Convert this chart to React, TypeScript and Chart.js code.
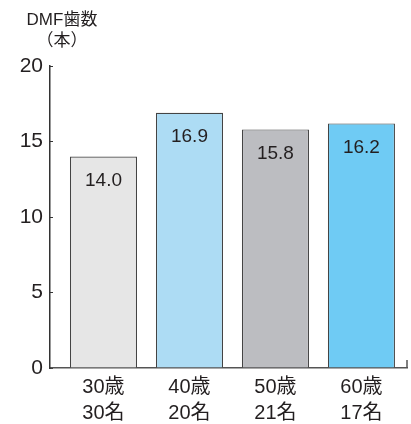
import { useEffect, useRef } from 'react';
import { Chart, registerables } from 'chart.js';

Chart.register(...registerables);

// Mean DMF teeth by age group
const ageGroups = ['30歳', '40歳', '50歳', '60歳'];
const headcounts = ['30名', '20名', '21名', '17名'];
const dmfTeeth = [14.0, 16.9, 15.8, 16.2];
const barColors = ['#e6e6e6', '#addcf4', '#bcbdc1', '#6fcbf4'];
const yTicks = [0, 5, 10, 15, 20];
const unitLines = ['DMF歯数', '（本）'];

const FONT = "'Liberation Sans', 'Noto Sans CJK JP', sans-serif";
const INK = '#231f20';

// Unit caption above the y axis, value labels inside the bars, and the
// small end mark on the right of the x axis.
const decorations = {
  id: 'decorations',
  afterDatasetsDraw(chart: any) {
    const { ctx, chartArea } = chart;
    ctx.save();

    ctx.fillStyle = INK;
    ctx.textAlign = 'center';
    ctx.textBaseline = 'middle';
    ctx.font = `17px ${FONT}`;
    unitLines.forEach((line, i) => ctx.fillText(line, 62, 20 + i * 21));

    ctx.font = `19px ${FONT}`;
    const meta = chart.getDatasetMeta(0);
    meta.data.forEach((bar: any, i: number) => {
      ctx.fillText(dmfTeeth[i].toFixed(1), bar.x, bar.y + 24);
    });

    ctx.strokeStyle = '#555';
    ctx.lineWidth = 1.5;
    ctx.beginPath();
    ctx.moveTo(chartArea.right, chartArea.bottom - 8);
    ctx.lineTo(chartArea.right, chartArea.bottom);
    ctx.stroke();
    ctx.restore();
  },
};

export default function App() {
  const canvasRef = useRef<HTMLCanvasElement | null>(null);

  useEffect(() => {
    document.body.style.margin = '0';
    const canvas = canvasRef.current;
    if (!canvas) return;

    const chart = new Chart(canvas, {
      type: 'bar',
      data: {
        datasets: [
          {
            data: dmfTeeth.map((v, i) => ({ x: i + 1, y: v })),
            backgroundColor: barColors,
            borderColor: '#444',
            borderWidth: 1.2,
            borderSkipped: 'bottom',
            barPercentage: 0.78,
            categoryPercentage: 1,
          },
        ],
      },
      options: {
        animation: false,
        responsive: false,
        maintainAspectRatio: false,
        layout: { padding: { top: 66, right: 4, left: 0, bottom: 0 } },
        plugins: {
          legend: { display: false },
          tooltip: { enabled: false },
          title: { display: false },
        },
        scales: {
          x: {
            type: 'linear',
            offset: false,
            min: 0.378,
            max: 4.53,
            afterBuildTicks: (scale: any) => {
              scale.ticks = ageGroups.map((_, i) => ({ value: i + 1 }));
            },
            afterFit: (scale: any) => {
              scale.height = 56;
            },
            grid: { display: false, drawTicks: false },
            border: { color: '#555', width: 1.5 },
            ticks: {
              color: INK,
              font: { family: FONT, size: 20, lineHeight: 1.3 },
              padding: 6,
              maxRotation: 0,
              autoSkip: false,
              callback: (value: any) => {
                const i = Math.round(Number(value)) - 1;
                return [ageGroups[i], headcounts[i]];
              },
            },
          },
          y: {
            min: 0,
            max: 20,
            afterBuildTicks: (scale: any) => {
              scale.ticks = yTicks.map((v) => ({ value: v }));
            },
            afterFit: (scale: any) => {
              scale.width = 50;
            },
            grid: {
              drawOnChartArea: false,
              tickLength: -3,
              color: '#333',
              lineWidth: 1,
            },
            border: { color: '#333', width: 1.5 },
            ticks: {
              color: INK,
              font: { family: FONT, size: 21 },
              padding: 10,
            },
          },
        },
      },
      plugins: [decorations],
    });

    return () => chart.destroy();
  }, []);

  return (
    <div style={{ width: 411, height: 424, overflow: 'hidden' }}>
      <canvas ref={canvasRef} width={411} height={424} />
    </div>
  );
}
